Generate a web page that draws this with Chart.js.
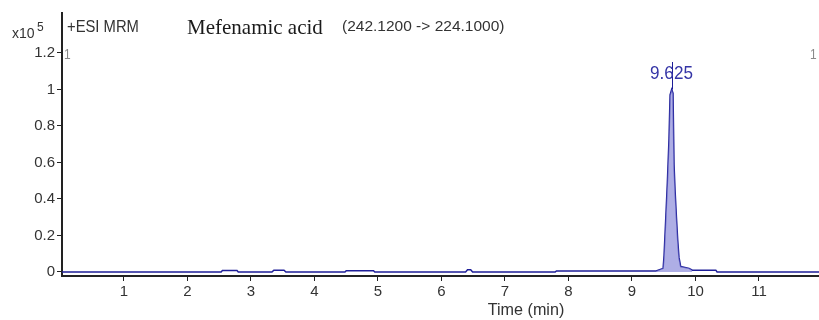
<!DOCTYPE html>
<html>
<head>
<meta charset="utf-8">
<script src="https://cdn.jsdelivr.net/npm/chart.js@4.4.1/dist/chart.umd.min.js"></script>
<style>
  html, body { margin: 0; padding: 0; background: #fff; }
  #wrap { width: 819px; height: 320px; }
</style>
</head>
<body>
<div id="wrap"><canvas id="chrom" width="819" height="320"></canvas></div>
<script>
// Mefenamic acid MRM chromatogram (intensity in x10^5 counts)
const xTicks = [1, 2, 3, 4, 5, 6, 7, 8, 9, 10, 11];
const yTicks = [0, 0.2, 0.4, 0.6, 0.8, 1, 1.2];

// baseline before the peak
const preTime = [0.02, 2.53, 2.55, 2.78, 2.80, 3.33, 3.36, 3.52, 3.55, 4.48, 4.50, 4.93, 4.95, 6.38, 6.41, 6.46, 6.49, 7.79, 7.81, 9.38];
const preInt  = [0.000, 0.000, 0.008, 0.008, 0.000, 0.000, 0.010, 0.010, 0.000, 0.000, 0.007, 0.007, 0.000, 0.000, 0.012, 0.012, 0.000, 0.000, 0.006, 0.006];

// integrated peak
const peakTime = [9.38, 9.49, 9.505, 9.53, 9.557, 9.583, 9.60, 9.625, 9.646, 9.662, 9.678, 9.70, 9.72, 9.74, 9.767, 9.90, 9.95];
const peakInt  = [0.006, 0.02, 0.09, 0.28, 0.49, 0.73, 0.97, 1.00, 0.98, 0.59, 0.45, 0.30, 0.175, 0.08, 0.03, 0.02, 0.01];

// tail after the peak
const postTime = [10.32, 10.34, 11.95];
const postInt  = [0.01, 0.0, 0.0];

const peakLabel = '9.625';
const peakRT = 9.625;
const peakTop = 1.0;

const toPts = (xs, ys) => xs.map((x, i) => ({ x: x, y: ys[i] }));
const tracePts = toPts(preTime, preInt).concat(toPts(peakTime, peakInt), toPts(postTime, postInt));

const lineBlue = '#1e1e98';
const sans = '"Liberation Sans", Arial, sans-serif';

// draws text squeezed horizontally by sx
function squeezed(ctx, str, x, y, sx, align) {
    ctx.save();
    ctx.translate(x, y);
    ctx.scale(sx, 1);
    ctx.textAlign = align || 'left';
    ctx.fillText(str, 0, 0);
    ctx.restore();
}

const textPlugin = {
    id: 'chromText',
    afterDraw(chart) {
        const ctx = chart.ctx;
        const xs = chart.scales.x, ys = chart.scales.y;
        ctx.save();
        ctx.textBaseline = 'alphabetic';

        // exponent label
        ctx.fillStyle = '#333';
        ctx.textAlign = 'left';
        ctx.font = '14px ' + sans;
        ctx.fillText('x10', 12, 38);
        ctx.font = '12px ' + sans;
        ctx.fillText('5', 37, 31);

        // header
        ctx.font = '17px ' + sans;
        ctx.fillStyle = '#333';
        squeezed(ctx, '+ESI MRM', 67, 32, 0.87);
        ctx.font = '21px "Liberation Serif", "Times New Roman", serif';
        ctx.fillStyle = '#1a1a1a';
        ctx.fillText('Mefenamic acid', 187, 34);
        ctx.font = '15.5px ' + sans;
        ctx.fillStyle = '#333';
        ctx.fillText('(242.1200 -> 224.1000)', 342, 31);

        // segment markers
        ctx.fillStyle = '#8a8a8a';
        ctx.font = '15px ' + sans;
        squeezed(ctx, '1', 64, 59, 0.8);
        squeezed(ctx, '1', 810, 59, 0.8);

        // peak annotation
        const px = Math.round(xs.getPixelForValue(peakRT)) + 0.5;
        ctx.strokeStyle = lineBlue;
        ctx.lineWidth = 1;
        ctx.beginPath();
        ctx.moveTo(px, 62);
        ctx.lineTo(px, ys.getPixelForValue(peakTop));
        ctx.stroke();
        ctx.fillStyle = '#3434a6';
        ctx.font = '18px ' + sans;
        squeezed(ctx, peakLabel, px - 1, 79, 0.95, 'center');

        // x axis title
        ctx.fillStyle = '#333';
        ctx.font = '17px ' + sans;
        squeezed(ctx, 'Time (min)', 526, 315, 0.95, 'center');
        ctx.restore();
    }
};

new Chart(document.getElementById('chrom').getContext('2d'), {
    type: 'line',
    data: {
        datasets: [{
            data: toPts(peakTime, peakInt),
            borderWidth: 0,
            borderColor: 'rgba(0,0,0,0)',
            backgroundColor: 'rgba(130,130,215,0.65)',
            fill: 'origin',
            pointRadius: 0,
            tension: 0
        }, {
            data: tracePts,
            borderColor: lineBlue,
            borderWidth: 1.5,
            fill: false,
            pointRadius: 0,
            tension: 0
        }]
    },
    options: {
        responsive: false,
        animation: false,
        events: [],
        layout: { padding: { top: 13, right: 0, left: 0, bottom: 0 } },
        plugins: { legend: { display: false }, tooltip: { enabled: false } },
        scales: {
            x: {
                type: 'linear',
                min: 0.024,
                max: 11.945,
                afterFit: s => { s.height = 44; },
                afterBuildTicks: s => { s.ticks = xTicks.map(v => ({ value: v })); },
                ticks: {
                    color: '#333',
                    padding: 2,
                    autoSkip: false,
                    maxRotation: 0,
                    font: { family: sans, size: 15 },
                    callback: v => String(v)
                },
                grid: { display: true, drawOnChartArea: false, drawTicks: true, tickLength: 5, tickColor: '#222' },
                border: { display: true, color: '#222', width: 2 }
            },
            y: {
                min: -0.022,
                max: 1.419,
                afterFit: s => { s.width = 62; },
                afterBuildTicks: s => { s.ticks = yTicks.map(v => ({ value: v })); },
                ticks: {
                    color: '#333',
                    padding: 2,
                    font: { family: sans, size: 15 },
                    callback: v => String(Math.round(v * 10) / 10)
                },
                grid: { display: true, drawOnChartArea: false, drawTicks: true, tickLength: 5, tickColor: '#222' },
                border: { display: true, color: '#222', width: 2 }
            }
        }
    },
    plugins: [textPlugin]
});
</script>
</body>
</html>
